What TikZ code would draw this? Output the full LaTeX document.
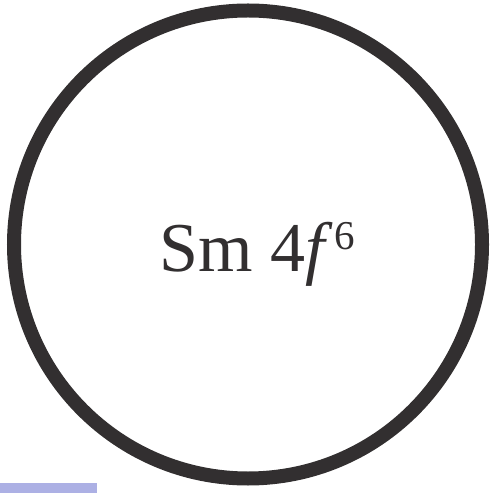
\documentclass[tikz,border=0pt]{standalone}
\usepackage{fontspec}
\setmainfont{Liberation Serif}
\definecolor{ringgray}{RGB}{50,47,48}
\definecolor{barblue}{RGB}{172,176,228}
\tikzset{
  ring/.style={draw=ringgray, line width=14pt},
  atomlabel/.style={font=\fontsize{70}{70}\selectfont, text=ringgray, inner sep=0pt, anchor=base west}
}

\begin{document}
\begin{tikzpicture}[x=1pt,y=1pt]
    \useasboundingbox (0,0) rectangle (495,493);
    \fill[barblue] (0,0) rectangle (97,10);
    \draw[ring] (248,248.5) circle (234);
    \node[atomlabel] (ion) at (159,221) {Sm 4\textit{f}\kern2pt\raisebox{22pt}{\fontsize{41}{41}\selectfont 6}};
\end{tikzpicture}
\end{document}
